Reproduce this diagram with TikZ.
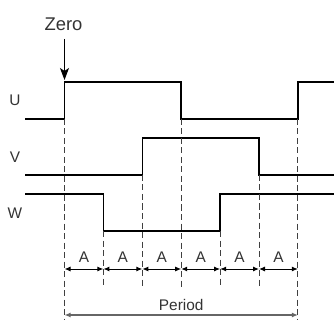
\documentclass[tikz,border=0pt]{standalone}
\usepackage{fontspec}
\setmainfont{Liberation Sans}
\usetikzlibrary{arrows.meta, positioning}

\begin{document}
\begin{tikzpicture}[
    x=1pt, y=-1pt,
    wave/.style={draw=black, line width=1.5pt},
    guide/.style={draw=black!75, line width=0.9pt, dash pattern=on 6pt off 3.5pt},
    dim/.style={draw=black, line width=1pt, {Latex[length=6pt,width=5pt]}-{Latex[length=6pt,width=5pt]}},
    span/.style={draw=black!60, line width=1.6pt, {Latex[length=6pt,width=5pt]}-{Latex[length=6pt,width=5pt]}},
    lbl/.style={text=black!80, font=\fontsize{15.4}{17}\selectfont, inner sep=1pt},
    zerolbl/.style={text=black!80, font=\fontsize{18.4}{20}\selectfont, inner sep=1pt}
]
\useasboundingbox (0,0) rectangle (334,320);

% Time grid and signal levels
\foreach \i in {0,...,6}
    \coordinate (t\i) at ({64.5+38.9*\i},0);
\coordinate (Uhi) at (0,82);
\coordinate (Ulo) at (0,119);
\coordinate (Vhi) at (0,138);
\coordinate (Vlo) at (0,175);
\coordinate (Whi) at (0,194);
\coordinate (Wlo) at (0,231);
\coordinate (left) at (25,0);
\coordinate (right) at (334,0);

% Signal names
\node[lbl] (U) at (15,100) {U};
\node[lbl] (V) at (15,157) {V};
\node[lbl] (W) at (15,213) {W};
\node[zerolbl] (zero) at (63.5,24) {Zero};

% Waveforms
\draw[wave] (left |- Ulo) -- (t0 |- Ulo) -- (t0 |- Uhi) -- (t3 |- Uhi) -- (t3 |- Ulo)
    -- (t6 |- Ulo) -- (t6 |- Uhi) -- (right |- Uhi);
\draw[wave] (left |- Vlo) -- (t2 |- Vlo) -- (t2 |- Vhi) -- (t5 |- Vhi) -- (t5 |- Vlo)
    -- (right |- Vlo);
\draw[wave] (left |- Whi) -- (t1 |- Whi) -- (t1 |- Wlo) -- (t4 |- Wlo) -- (t4 |- Whi)
    -- (right |- Whi);

% Zero marker
\coordinate (zerotop) at (t0 |- 0,39);
\draw[line width=1pt, -{Stealth[length=12pt,width=9pt,inset=3pt]}, shorten >=2pt] (zerotop) -- (t0 |- Uhi);

% Guide lines
\draw[guide] (t0 |- Ulo) -- (t0 |- 0,320);
\draw[guide] (t6 |- Ulo) -- (t6 |- 0,320);
\draw[guide] (t3 |- Ulo) -- (t3 |- 0,287);
\draw[guide] (t2 |- Vlo) -- (t2 |- 0,287);
\draw[guide] (t5 |- Vlo) -- (t5 |- 0,287);
\draw[guide] (t1 |- Wlo) -- (t1 |- 0,287);
\draw[guide] (t4 |- Wlo) -- (t4 |- 0,287);

% Step widths
\foreach \i [evaluate=\i as \j using int(\i+1)] in {0,...,5}
    \draw[dim] (t\i |- 0,269) -- node[lbl, above=5pt] {A} (t\j |- 0,269);

% Period
\draw[span] (t0 |- 0,315) -- node[lbl, above=3pt] {Period} (t6 |- 0,315);

\end{tikzpicture}
\end{document}
